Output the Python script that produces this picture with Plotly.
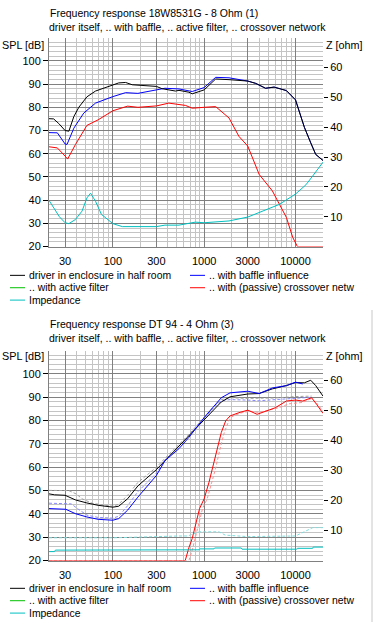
import math
import plotly.graph_objects as go

# ---------------- data: chart 1 (18W8531G) ----------------
c1_black_f = [20, 22.5, 25.6, 30, 33, 37.4, 42.4, 52, 64.6, 83, 100, 116, 138, 163, 300, 346, 485, 530, 680, 740, 1000, 1336, 1870, 3000, 3670, 4700, 5830, 7940, 10000, 12500, 14680, 16650, 20000]
c1_black = [75.1, 75, 73, 70, 69.7, 76, 80, 84.5, 87, 88.5, 89.3, 90.5, 90.7, 89.7, 89, 88, 87, 87.3, 86.5, 85.8, 87.5, 92.2, 91.9, 91.3, 90.3, 88.2, 88.7, 87.2, 83.2, 71.4, 64.7, 59.7, 57.1]

c1_blue_f = [20, 24.7, 30, 31.5, 37.4, 48, 64.6, 100, 138, 188, 300, 372, 530, 740, 1000, 1336, 1870, 3000, 3670, 4700, 5830, 7940, 10000, 12500, 14680, 16650, 20000]
c1_blue = [69.1, 69, 64.2, 64, 71, 77.5, 81.8, 84.6, 86.3, 86, 87.5, 88.2, 87.9, 86.8, 88.5, 92.9, 92.7, 91.3, 90.3, 88.2, 88.7, 87.2, 83.2, 71.4, 64.7, 59.7, 57.1]

c1_red_f = [20, 24.7, 30, 32, 39, 52, 69, 100, 145, 188, 300, 410, 625, 740, 1000, 1336, 1870, 2400, 3000, 4000, 5580, 6610, 7940, 9320, 10500, 20000]
c1_red = [63, 62.5, 59, 57.7, 64, 72.2, 74.6, 78.5, 80.5, 80, 80.6, 81.8, 80.8, 79.6, 80, 80.3, 75.4, 67.5, 63.3, 51.1, 44, 38.3, 32.6, 24, 20, 20]

c1_z_f = [20, 22.7, 26, 30, 33, 39, 46, 52, 57, 64.6, 75, 100, 127, 300, 372, 530, 800, 1000, 1870, 3000, 4700, 6610, 10000, 13000, 15300, 20000]
c1_z = [15.5, 13, 10, 8, 7.7, 9.1, 11.9, 16.3, 17.9, 15.2, 10.8, 7.7, 6.7, 6.7, 7.2, 7.2, 8.2, 8, 8.6, 9.9, 12.4, 14.1, 17.6, 20.7, 23.5, 28.3]

# ---------------- data: chart 2 (DT 94) ----------------
c2_black_f = [20, 23, 30, 39, 52, 69, 100, 116, 145, 188, 300, 372, 530, 680, 740, 1000, 1230, 1540, 1920, 3000, 4000, 5580, 7940, 10000, 12500, 14680, 16650, 20000]
c2_black = [48.6, 48.2, 48, 46, 44.7, 43.7, 42.9, 43.3, 46.5, 52, 59, 62.8, 69.2, 73.5, 74.9, 80.2, 84.1, 88.0, 90.2, 91.4, 91.6, 93.6, 95, 96.3, 96.2, 97.3, 95, 90.5]

c2_blue_f = [20, 30.5, 39, 52, 69, 100, 116, 145, 188, 300, 372, 530, 680, 1000, 1540, 1920, 3000, 4000, 5580, 7940, 10000, 12000]
c2_blue = [42.3, 42, 40.1, 38.7, 37.7, 37.3, 38, 41.6, 47.2, 56.5, 62.8, 68, 72.8, 81.3, 89.8, 91.9, 92.6, 91.6, 94, 95, 96.5, 95.7]

c2_red_f = [20, 620, 680, 740, 890, 1000, 1130, 1230, 1380, 1540, 1720, 1920, 2400, 3000, 3800, 4700, 6000, 7940, 10000, 12000, 15000, 17000, 20000]
c2_red = [20, 20, 25.5, 29.5, 42.3, 46.5, 53.6, 59.3, 67.8, 74.9, 79.9, 82, 83.4, 84.5, 82.7, 84.1, 85.5, 88.4, 88.8, 88.4, 89.8, 87, 83.1]

c2_red_ref_f = [20, 680, 740, 800, 960, 1080, 1220, 1330, 1490, 1660, 1860, 2070, 2600, 3200, 4000, 5000, 6500, 8500, 10000, 12000, 15000, 17000, 20000]
c2_red_ref = [20, 20, 24.5, 29.5, 42.3, 46.5, 53.6, 59.3, 67.8, 74.9, 79.9, 82, 83.4, 84, 83.5, 84.5, 85.5, 87.2, 87.5, 87.8, 89.5, 87.5, 84]

c2_gray_ref_f = [20, 33, 40, 46, 60, 100, 116, 145, 188, 300, 372, 530, 680, 1000, 1300, 1540, 1920, 3000, 4000, 6000, 10000, 15000]
c2_gray_ref = [50.1, 50, 48.5, 46.5, 44.5, 43.3, 44.2, 48, 53.5, 60, 63.8, 70, 74, 81.5, 86.5, 89, 89.8, 89.5, 89.6, 89.7, 90.3, 90.5]

c2_blue_ref_f = [20, 35, 42, 52, 69, 100, 116, 145, 188, 300, 372, 530, 680, 1000, 1300, 1540, 1920, 3000, 4000, 6000, 10000, 15000]
c2_blue_ref = [44.6, 44.3, 42, 39.5, 38.5, 38.2, 39, 43.5, 49.5, 57.5, 63, 69, 73.3, 81, 86, 88.5, 89, 88.8, 88.5, 89, 89.5, 90]

c2_z_f = [20, 23, 23.5, 880, 890, 1280, 1300, 2550, 2600, 10300, 10500, 15400, 15600, 20000]
c2_z = [3.0, 3.0, 3.5, 3.6, 3.9, 3.9, 4.2, 4.2, 3.8, 3.8, 4.1, 4.1, 4.5, 4.5]

c2_z_ref_f = [20, 100, 530, 660, 880, 1450, 1700, 3000, 10000, 13000, 15500, 20000]
c2_z_ref = [7.6, 7.6, 8.2, 8.2, 9.6, 9.6, 8.5, 8.0, 8.2, 10, 11, 11]

# ---------------- axis ticks ----------------
x_major = [30, 100, 300, 1000, 3000, 10000]
x_major_text = ["30", "100", "300", "1000", "3000", "10000"]
x_minor = [20, 40, 50, 60, 70, 80, 90, 200, 400, 500, 600, 700, 800, 900,
           2000, 4000, 5000, 6000, 7000, 8000, 9000, 20000]
spl_major = [20, 30, 40, 50, 60, 70, 80, 90, 100]
spl_minor = list(range(22, 111, 2))
z_major = [10, 20, 30, 40, 50, 60]

legend_names = ["driver in enclosure in half room", ".. with baffle influence",
                ".. with active filter", ".. with (passive) crossover netw", "Impedance"]
legend_colors = ["#000000", "#0000ff", "#00c000", "#ff0000", "#00c0c0"]

W, H = 373, 628
FONT = "Liberation Sans"


def px(x):
    return x / W


def py(y):
    return 1 - y / H


fig = go.Figure()


def add(f, v, color, xa, ya, dash=None):
    fig.add_trace(go.Scatter(x=f, y=v, mode="lines", xaxis=xa, yaxis=ya,
                             line=dict(color=color, width=1, dash=dash),
                             showlegend=False, hoverinfo="skip"))


# chart 1
add(c1_z_f, c1_z, "#00c0c0", "x", "y2")
add(c1_blue_f, c1_blue, "#0000ff", "x", "y")
add(c1_black_f, c1_black, "#000000", "x", "y")
add(c1_red_f, c1_red, "#ff0000", "x", "y")

# chart 2
DASH = "3px,2px"
add(c2_z_ref_f, c2_z_ref, "#80dcdc", "x2", "y4", DASH)
add(c2_z_f, c2_z, "#00c0c0", "x2", "y4")
add(c2_gray_ref_f, c2_gray_ref, "#a0a0a0", "x2", "y3", DASH)
add(c2_blue_ref_f, c2_blue_ref, "#8888ff", "x2", "y3", DASH)
add(c2_red_ref_f, c2_red_ref, "#ff9090", "x2", "y3", DASH)
add(c2_black_f, c2_black, "#000000", "x2", "y3")
add(c2_blue_f, c2_blue, "#0000ff", "x2", "y3")
add(c2_red_f, c2_red, "#ff0000", "x2", "y3")

tickfont = dict(family=FONT, size=11, color="#000000")
XDOM = [px(49), px(323)]


def xaxis(anchor):
    return dict(domain=XDOM, anchor=anchor, type="log",
                range=[math.log10(20), math.log10(20000)],
                tickmode="array", tickvals=x_major, ticktext=x_major_text,
                showgrid=True, gridcolor="#808080", gridwidth=1,
                minor=dict(tickmode="array", tickvals=x_minor, showgrid=True,
                           gridcolor="#c4c4c4", gridwidth=1, ticks=""),
                ticks="", ticklabelstandoff=4, tickfont=tickfont,
                showline=True, linecolor="#808080", linewidth=1,
                zeroline=False, fixedrange=True)


def spl_axis(dom, anchor):
    return dict(domain=dom, anchor=anchor, range=[20, 110],
                tickmode="array", tickvals=spl_major,
                showgrid=True, gridcolor="#808080", gridwidth=1,
                minor=dict(tickmode="array", tickvals=spl_minor, showgrid=True,
                           gridcolor="#c4c4c4", gridwidth=1, ticks=""),
                ticks="outside", ticklen=5, tickcolor="#000000", tickwidth=1,
                tickfont=tickfont, showline=True, linecolor="#808080",
                zeroline=False, fixedrange=True)


def z_axis(over, anchor):
    return dict(overlaying=over, anchor=anchor, side="right", range=[0, 70],
                tickmode="array", tickvals=z_major, showgrid=False,
                ticks="outside", ticklen=4, tickcolor="#000000", tickwidth=1,
                tickfont=tickfont, zeroline=False, showline=False, fixedrange=True)


fig.update_layout(
    width=W, height=H, autosize=False,
    margin=dict(l=0, r=0, t=0, b=0),
    paper_bgcolor="#ffffff", plot_bgcolor="#ffffff",
    showlegend=False,
    xaxis=xaxis("y"),
    yaxis=spl_axis([py(249), py(38)], "x"),
    yaxis2=z_axis("y", "x"),
    xaxis2=xaxis("y3"),
    yaxis3=spl_axis([py(566), py(354)], "x2"),
    yaxis4=z_axis("y3", "x2"),
)

ann = []
shapes = []


def F(size):
    return dict(family=FONT, size=size, color="#000000")


def text(x, y, s, font, anchor="left"):
    ann.append(dict(x=px(x), y=py(y), xref="paper", yref="paper", text=s,
                    showarrow=False, xanchor=anchor, yanchor="middle", font=font,
                    borderpad=0))


def chart_text(top, title):
    text(49, top + 13, title, F(10.5))
    text(48, top + 27.5, "driver itself, .. with baffle, .. active filter, .. crossover network", F(10.5))
    text(1, top + 45, "SPL [dB]", F(10.8))
    text(325, top + 45, "Z [ohm]", F(10.8))


chart_text(0, "Frequency response 18W8531G - 8 Ohm (1)")
chart_text(314, "Frequency response DT 94 - 4 Ohm (3)")


def legend(y0):
    pos = [(10, y0), (190, y0), (10, y0 + 12.5), (190, y0 + 12.5), (10, y0 + 25)]
    for (x, y), name, col in zip(pos, legend_names, legend_colors):
        shapes.append(dict(type="line", xref="paper", yref="paper",
                           x0=px(x), x1=px(x + 15), y0=py(y), y1=py(y),
                           line=dict(color=col, width=1)))
        text(x + 18, y, name, F(10.4))


legend(278)
legend(594)

shapes.append(dict(type="line", xref="paper", yref="paper", x0=px(372), x1=px(372),
                   y0=py(313), y1=py(628), line=dict(color="#c8c8c8", width=1)))

fig.update_layout(annotations=ann, shapes=shapes)
fig.write_html("out.html", config={"displayModeBar": False},
               post_script="document.body.style.margin='0px';document.body.style.overflow='hidden';")
